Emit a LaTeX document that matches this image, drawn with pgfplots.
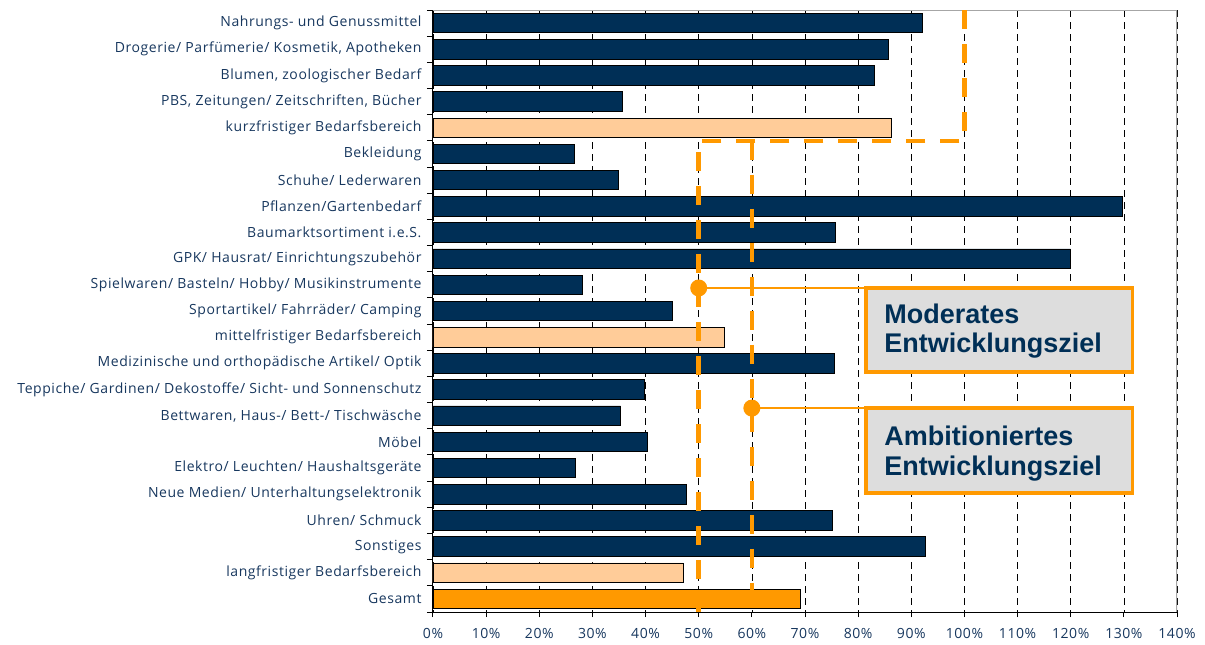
\documentclass[border=0pt]{standalone}
\usepackage{fontspec}
\setmainfont{Open Sans}[LetterSpace=4]
\newfontfamily\boxfont{Liberation Sans}
\usepackage{pgfplots}
\pgfplotsset{compat=1.18}
\definecolor{navy}{RGB}{0,47,86}
\definecolor{txtnavy}{RGB}{23,55,94}
\definecolor{peach}{RGB}{255,204,153}
\definecolor{orng}{RGB}{255,153,0}
\definecolor{boxgray}{RGB}{221,221,221}
\begin{document}
\begin{tikzpicture}[x=1pt,y=1pt]
\useasboundingbox (0,0) rectangle (1205,645);
\begin{axis}[
  at={(433pt,33pt)}, anchor=south west,
  width=744pt, height=602pt, scale only axis,
  xmin=0, xmax=140, ymin=-0.5, ymax=22.5, y dir=reverse,
  axis x line*=bottom, axis y line*=left,
  axis line style={-, black, line width=1pt},
  xtick={0,10,...,140},
  xticklabels={0\%,10\%,20\%,30\%,40\%,50\%,60\%,70\%,80\%,90\%,100\%,110\%,120\%,130\%,140\%},
  ytick={0,...,22},
  yticklabels={Nahrungs- und Genussmittel,{Drogerie/ Parfümerie/ Kosmetik, Apotheken},{Blumen, zoologischer Bedarf},{PBS, Zeitungen/ Zeitschriften, Bücher},kurzfristiger Bedarfsbereich,Bekleidung,Schuhe/ Lederwaren,Pflanzen/Gartenbedarf,Baumarktsortiment i.e.S.,GPK/ Hausrat/ Einrichtungszubehör,Spielwaren/ Basteln/ Hobby/ Musikinstrumente,Sportartikel/ Fahrräder/ Camping,mittelfristiger Bedarfsbereich,Medizinische und orthopädische Artikel/ Optik,Teppiche/ Gardinen/ Dekostoffe/ Sicht- und Sonnenschutz,{Bettwaren, Haus-/ Bett-/ Tischwäsche},Möbel,Elektro/ Leuchten/ Haushaltsgeräte,Neue Medien/ Unterhaltungselektronik,Uhren/ Schmuck,Sonstiges,langfristiger Bedarfsbereich,Gesamt},
  minor ytick={-0.5,0.5,...,22.5},
  tick align=outside,
  major tick length=5pt, minor tick length=6pt,
  major y tick style={draw=none},
  xtick style={black, line width=1pt},
  minor tick style={black, line width=1pt},
  xmajorgrids,
  major grid style={black, line width=0.7pt, dash pattern=on 7pt off 5pt},
  ticklabel style={font=\fontsize{14}{16}\selectfont, text=txtnavy},
  yticklabel style={xshift=-3pt},
  xticklabel style={yshift=-8pt},
  every axis plot/.append style={xbar, bar shift=0pt, bar width=19.5pt, draw=black, line width=0.8pt},
]
\addplot[fill=navy] coordinates {
(92.0,0) (85.6,1) (83.0,2) (35.6,3)
(26.6,5) (34.8,6) (129.8,7) (75.8,8) (120.0,9) (28.1,10) (45.0,11)
(75.5,13) (39.8,14) (35.3,15) (40.3,16) (26.8,17) (47.6,18) (75.2,19) (92.6,20)
};
\addplot[fill=peach] coordinates {(86.3,4) (54.9,12) (47.1,21)};
\addplot[fill=orng] coordinates {(69.2,22)};
% frame
\draw[gray!70, line width=1.5pt] (rel axis cs:0,1) -- (rel axis cs:1,1) -- (rel axis cs:1,0);
% target lines
\draw[orng, line width=4.5pt, dash pattern=on 19pt off 15pt]
  (axis cs:100,-0.5) -- (axis cs:100,4.5) -- (axis cs:50,4.5) -- (axis cs:50,22.5);
\draw[orng, line width=4.5pt, dash pattern=on 19pt off 15pt]
  (axis cs:60,4.5) -- (axis cs:60,22.5);
% callouts
\draw[orng, line width=2.5pt] (axis cs:50,10.12) -- (axis cs:81.5,10.12);
\fill[orng] (axis cs:50,10.12) circle (8.5pt);
\draw[orng, line width=2.5pt] (axis cs:60,14.71) -- (axis cs:81.5,14.71);
\fill[orng] (axis cs:60,14.71) circle (8.5pt);
\draw[orng, line width=3.5pt, fill=boxgray] (axis cs:81.5,10.12) rectangle (axis cs:131.6,13.33);
\draw[orng, line width=3.5pt, fill=boxgray] (axis cs:81.5,14.71) rectangle (axis cs:131.6,17.96);
\node[anchor=base west, inner sep=0pt, text=navy, font=\boxfont\bfseries\fontsize{27}{30}\selectfont] at (axis cs:84.9,11.46) {Moderates};
\node[anchor=base west, inner sep=0pt, text=navy, font=\boxfont\bfseries\fontsize{27}{30}\selectfont] at (axis cs:84.9,12.6) {Entwicklungsziel};
\node[anchor=base west, inner sep=0pt, text=navy, font=\boxfont\bfseries\fontsize{27}{30}\selectfont] at (axis cs:84.9,16.12) {Ambitioniertes};
\node[anchor=base west, inner sep=0pt, text=navy, font=\boxfont\bfseries\fontsize{27}{30}\selectfont] at (axis cs:84.9,17.27) {Entwicklungsziel};
\end{axis}
\end{tikzpicture}
\end{document}
